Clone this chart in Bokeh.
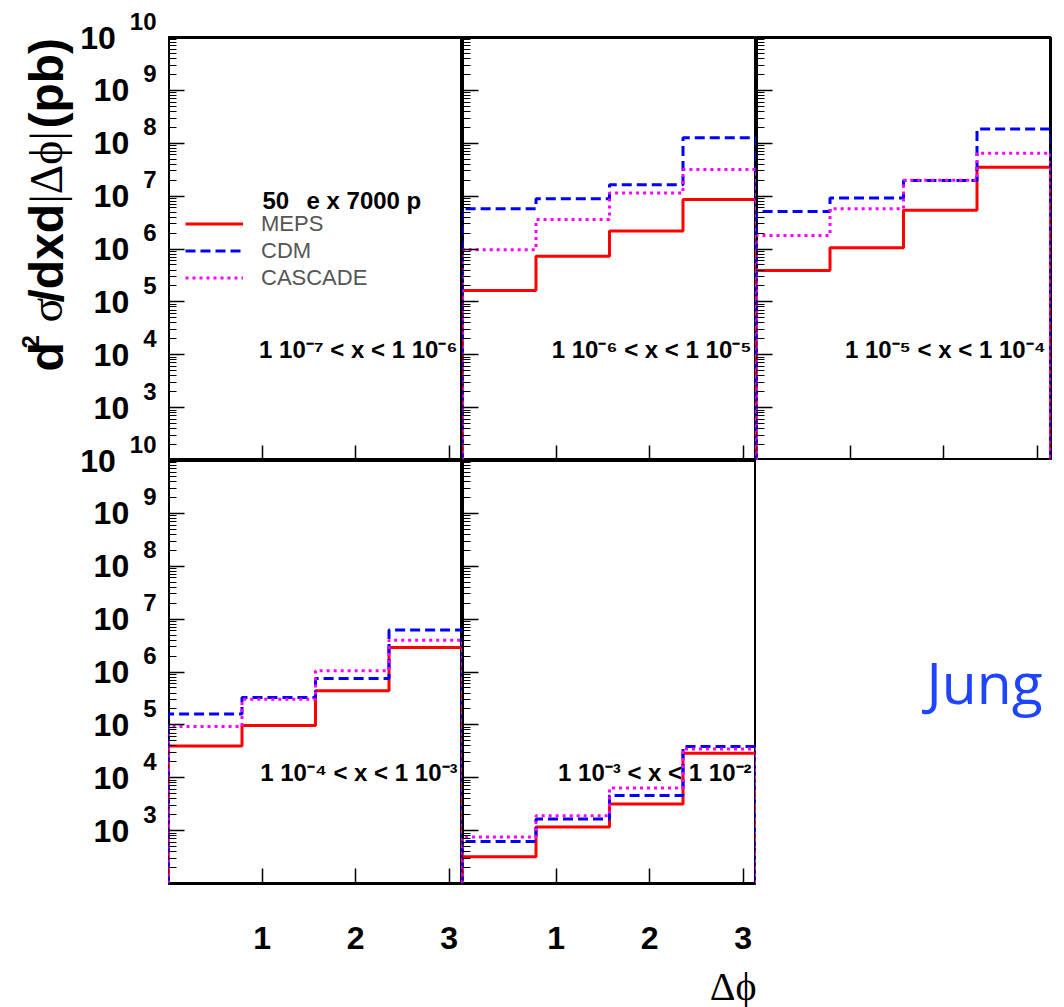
import math

from bokeh.core.properties import value
from bokeh.embed import file_html
from bokeh.layouts import column, row
from bokeh.models import (ColumnDataSource, CustomJSTickFormatter, FixedTicker,
                          Label, LabelSet, Legend, LegendItem, Range1d, Title)
from bokeh.plotting import figure
from bokeh.resources import INLINE

# ---- data -------------------------------------------------------------
# Δφ binning: four bins between 0 and π
phi_edges = [0.0, 0.7854, 1.5708, 2.3562, 3.1416]

# x bins as (lower, upper) exponents of 1·10^n
x_bins = [(-7, -6), (-6, -5), (-5, -4), (-4, -3), (-3, -2)]

# d²σ/dx d|Δφ| in pb, one list per x bin
meps = [
    [],
    [1.65e5, 7.3e5, 2.2e6, 8.6e6],
    [3.9e5, 1.06e6, 5.4e6, 3.5e7],
    [4.0e4, 9.7e4, 4.4e5, 2.9e6],
    [3.2e2, 1.17e3, 3.2e3, 2.9e4],
]
cdm = [
    [],
    [5.8e6, 8.9e6, 1.64e7, 1.27e8],
    [5.1e6, 9.2e6, 1.98e7, 1.85e8],
    [1.6e5, 3.3e5, 7.5e5, 6.2e6],
    [6.2e2, 1.66e3, 4.6e3, 3.9e4],
]
cascade = [
    [],
    [9.7e5, 3.6e6, 1.14e7, 3.2e7],
    [1.8e6, 5.8e6, 2.0e7, 6.5e7],
    [9.3e4, 3.05e5, 1.06e6, 4.0e6],
    [7.6e2, 1.92e3, 6.4e3, 3.5e4],
]

series_names = ["MEPS", "CDM", "CASCADE"]
x_ticks = [1, 2, 3]
y_decades = list(range(2, 11))      # 10^2 … 10^10
y_labelled = list(range(3, 11))     # decades that carry a label

# ---- styling ----------------------------------------------------------
FW, FH = 294, 423
Y_LO, Y_HI = 1e2, 1e10
PX_PER_DECADE = FH / (math.log10(Y_HI) - math.log10(Y_LO))
LEFT_W = 168          # width of the tick-label / title column
TOP_GAP = 37          # space above the upper row of frames
OVERLAP = 34          # lower row is pulled up over the upper one by this much
BOTTOM_H = 124        # space below the lower row of frames
RIGHT_W = 14
EXP_RAISE = 8         # extra lift of the decade exponents, in pixels

SANS = "Liberation Sans"
SERIF = "Liberation Serif"
series_style = {
    "MEPS": dict(line_color="#ff0000", line_dash="solid"),
    "CDM": dict(line_color="#0000ff", line_dash="10 5"),
    "CASCADE": dict(line_color="#ff00ff", line_dash="3 4"),
}
SUP = str.maketrans("-0123456789", "⁻⁰¹²³⁴⁵⁶⁷⁸⁹")


def step_xy(edges, vals, floor):
    """Histogram outline, dropping to the floor at both ends."""
    if not vals:
        return [float("nan")], [float("nan")]
    xs, ys = [edges[0]], [floor]
    for i, v in enumerate(vals):
        xs += [edges[i], edges[i + 1]]
        ys += [v, v]
    xs.append(edges[-1])
    ys.append(floor)
    return xs, ys


def blank_labels(ax):
    ax.formatter = CustomJSTickFormatter(code="return ''")
    ax.major_label_text_font_size = "0px"
    ax.major_label_standoff = 0


def bare_figure(**kw):
    return figure(title=None, output_backend="svg", toolbar_location=None,
                  frame_align=False,
                  min_border_left=0, min_border_right=0, min_border_top=0,
                  min_border_bottom=0, **kw)


def make_panel(i, right=0, top=0, bottom=0, xlabels=False):
    p = bare_figure(x_range=Range1d(phi_edges[0], phi_edges[-1]),
                    y_range=Range1d(Y_LO, Y_HI), y_axis_type="log",
                    frame_width=FW, frame_height=FH)
    p.min_border_right = right
    p.min_border_top = top
    p.min_border_bottom = bottom
    p.xgrid.visible = False
    p.ygrid.visible = False
    p.outline_line_color = "black"
    p.outline_line_width = 3
    p.background_fill_color = "white"
    p.border_fill_color = None

    yax = p.yaxis[0]
    yax.ticker = FixedTicker(
        ticks=[10.0 ** k for k in y_decades],
        minor_ticks=[m * 10.0 ** k for k in y_decades[:-1] for m in range(2, 10)])
    yax.major_tick_in, yax.major_tick_out = 16, 0
    yax.minor_tick_in, yax.minor_tick_out = 8, 0
    yax.major_tick_line_width = 1.5
    yax.minor_tick_line_width = 1
    yax.axis_line_color = None
    blank_labels(yax)

    xax = p.xaxis[0]
    xax.ticker = FixedTicker(ticks=x_ticks, minor_ticks=[])
    xax.major_tick_in, xax.major_tick_out = 15, 0
    xax.minor_tick_in, xax.minor_tick_out = 0, 0
    xax.major_tick_line_width = 1.5
    xax.axis_line_color = None
    if xlabels:
        xax.major_label_text_font = SANS
        xax.major_label_text_font_style = "bold"
        xax.major_label_text_font_size = "32px"
        xax.major_label_text_color = "black"
        xax.major_label_standoff = 43
    else:
        blank_labels(xax)

    renderers = {}
    for name, data in zip(series_names, (meps, cdm, cascade)):
        xs, ys = step_xy(phi_edges, data[i], Y_LO)
        renderers[name] = p.line(xs, ys, line_width=3, **series_style[name])

    lo, hi = x_bins[i]
    text = f"1 10{str(lo).translate(SUP)} < x < 1 10{str(hi).translate(SUP)}"
    p.add_layout(Label(x=FW - 5, y=111, x_units="screen", y_units="screen",
                       text=text, text_align="right", text_baseline="alphabetic",
                       text_font=SANS, text_font_style="bold", text_font_size="24px",
                       text_color="black"))
    return p, renderers


def make_side(width, height, extra_top, bottom=0):
    """Blank column left of a row of frames, sharing its log y scale."""
    y_top = 10 ** (math.log10(Y_HI) + extra_top / PX_PER_DECADE)
    p = bare_figure(x_range=Range1d(0, width), y_range=Range1d(Y_LO, y_top),
                    y_axis_type="log", frame_width=width, frame_height=height,
                    x_axis_location=None, y_axis_location=None)
    p.min_border_bottom = bottom
    p.grid.visible = False
    p.outline_line_color = None
    p.background_fill_color = None
    p.border_fill_color = None
    return p


def add_y_labels(p):
    exps = [str(k) for k in y_labelled]
    exp_right = LEFT_W - 12
    base_right = [exp_right - 13.3 * len(e) - 14 for e in exps]
    lift = 10 ** (EXP_RAISE / PX_PER_DECADE)
    src = ColumnDataSource(dict(y=[10.0 ** k for k in y_labelled],
                                ey=[10.0 ** k * lift for k in y_labelled],
                                base=["10"] * len(exps), exp=exps,
                                bx=base_right, ex=[exp_right] * len(exps)))
    p.add_layout(LabelSet(x="bx", y="y", text="base", source=src,
                          text_align="right", text_baseline="middle",
                          text_font=value(SANS), text_font_style="bold",
                          text_font_size="32px", text_color="black"))
    p.add_layout(LabelSet(x="ex", y="ey", text="exp", source=src,
                          text_align="right", text_baseline="bottom",
                          text_font=value(SANS), text_font_style="bold",
                          text_font_size="24px", text_color="black"))


tl, tl_r = make_panel(0, top=TOP_GAP)
tm, _ = make_panel(1, top=TOP_GAP)
tr, _ = make_panel(2, top=TOP_GAP, right=RIGHT_W)
bl, _ = make_panel(3, top=OVERLAP, bottom=BOTTOM_H, xlabels=True)
bm, _ = make_panel(4, top=OVERLAP, bottom=BOTTOM_H, xlabels=True)

side_top = make_side(LEFT_W, FH + TOP_GAP, TOP_GAP)
side_bot = make_side(LEFT_W, FH + OVERLAP, OVERLAP, bottom=BOTTOM_H)
add_y_labels(side_top)
add_y_labels(side_bot)

# y-axis title, built from bold sans and serif (Greek) pieces, reading upwards
title_pieces = [
    ("d", 46, 89, SANS, "bold", "48px"),
    ("2", 30, 112, SANS, "bold", "24px"),
    ("σ", 46, 138, SERIF, "normal", "46px"),
    ("/dxd", 46, 158, SANS, "bold", "48px"),
    ("|Δϕ|", 46, 257, SERIF, "normal", "46px"),
    ("(pb)", 46, 332, SANS, "bold", "48px"),
]
for txt, sx, sy, font, style, size in title_pieces:
    side_top.add_layout(Label(x=sx, y=sy, x_units="screen", y_units="screen", text=txt,
                              angle=math.pi / 2, text_align="left",
                              text_baseline="alphabetic", text_font=font,
                              text_font_style=style, text_font_size=size,
                              text_color="black"))

# legend with its beam header
tl.add_layout(Label(x=94, y=260, x_units="screen", y_units="screen", text="50",
                    text_font=SANS, text_font_style="bold", text_font_size="24px",
                    text_baseline="alphabetic", text_color="black"))
tl.add_layout(Label(x=138, y=260, x_units="screen", y_units="screen", text="e x 7000 p",
                    text_font=SANS, text_font_style="bold", text_font_size="24px",
                    text_baseline="alphabetic", text_color="black"))
legend = Legend(items=[LegendItem(label=value(n), renderers=[tl_r[n]]) for n in series_names],
                location=(17, 169), margin=0, padding=0, spacing=0,
                glyph_width=58, glyph_height=27, label_height=27, label_standoff=18,
                label_text_font=SANS, label_text_font_size="22px",
                label_text_color="#555555", border_line_color=None,
                background_fill_alpha=0)
tl.add_layout(legend)

# x-axis title under the lower-middle frame
bm.add_layout(Title(text="Δϕ", align="right", text_font=SERIF, text_font_size="40px",
                    text_font_style="normal", text_color="black", standoff=21),
              "below")

# author tag in the free lower-right cell
side_right = bare_figure(x_range=Range1d(0, 1), y_range=Range1d(0, 1),
                         frame_width=FW + RIGHT_W, frame_height=OVERLAP + FH + BOTTOM_H,
                         x_axis_location=None, y_axis_location=None)
side_right.grid.visible = False
side_right.outline_line_color = None
side_right.background_fill_color = None
side_right.border_fill_color = None
side_right.add_layout(Label(x=170, y=326, x_units="screen", y_units="screen", text="Jung",
                            text_align="left", text_baseline="alphabetic",
                            text_font="Open Sans", text_font_size="57px",
                            text_color="#1f45fc"))

page = column(row(side_top, tl, tm, tr),
              row(side_bot, bl, bm, side_right, margin=(-OVERLAP, 0, 0, 0)))

with open("out.html", "w") as f:
    f.write(file_html(page, INLINE))
